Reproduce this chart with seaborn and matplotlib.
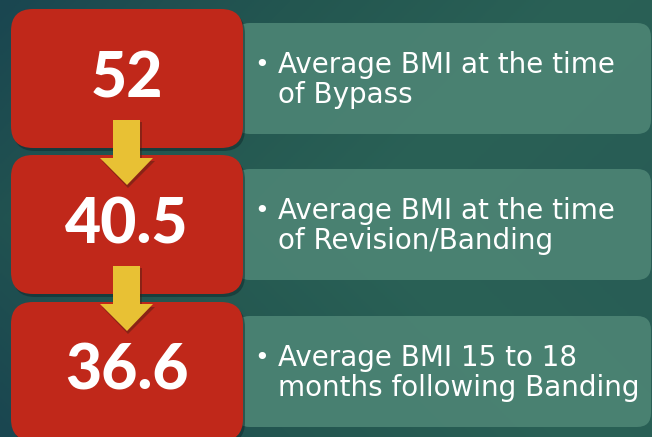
import numpy as np
import seaborn as sns
import matplotlib.pyplot as plt
from matplotlib.patches import FancyBboxPatch, Polygon
from matplotlib.colors import LinearSegmentedColormap

# values shown in the red boxes and the matching descriptions
bmi_values = ['52', '40.5', '36.6']
descriptions = [
    'Average BMI at the time\nof Bypass',
    'Average BMI at the time\nof Revision/Banding',
    'Average BMI 15 to 18\nmonths following Banding',
]

sns.set_theme(style='white')
plt.rcParams['font.family'] = ['DejaVu Sans']

fig = plt.figure(figsize=(6.52, 4.37), dpi=100)
ax = fig.add_axes([0, 0, 1, 1])
ax.set_xlim(0, 652)
ax.set_ylim(437, 0)
ax.axis('off')

# teal background gradient
bg = LinearSegmentedColormap.from_list('bg', ['#1a4650', '#235650', '#2a6156', '#285c55'])
gx = np.linspace(0, 1, 300)
gy = np.linspace(0, 1, 200)
GX, GY = np.meshgrid(gx, gy)
grad = 0.75 * GX + 0.25 * (1 - np.abs(GY - 0.5) * 2)
ax.imshow(grad, cmap=bg, extent=[0, 652, 437, 0], aspect='auto', zorder=0)

red = '#c0281a'
green = '#4b8373'
yellow = '#e8c134'

row_top = [9, 155, 302]
for i, (val, desc) in enumerate(zip(bmi_values, descriptions)):
    top = row_top[i]
    # green text panel
    ax.add_patch(FancyBboxPatch((236, top + 14), 415, 111,
                                boxstyle='round,pad=0,rounding_size=14',
                                fc=green, ec='none', alpha=0.95, zorder=1))
    # shadow + red box
    ax.add_patch(FancyBboxPatch((13, top + 3), 232, 139,
                                boxstyle='round,pad=0,rounding_size=22',
                                fc='#0c2226', ec='none', alpha=0.45, zorder=2))
    ax.add_patch(FancyBboxPatch((11, top), 232, 139,
                                boxstyle='round,pad=0,rounding_size=22',
                                fc=red, ec='none', zorder=3))
    ax.text(127, top + 70, val, ha='center', va='center', color='white',
            fontsize=45, fontweight='black', family=['Lato', 'DejaVu Sans'], zorder=6)
    ax.text(262, top + 56, '\u2022', ha='center', va='center', color='white',
            fontsize=18, zorder=6)
    for j, line in enumerate(desc.split('\n')):
        ax.text(278, top + 64 + 30 * j, line, ha='left', va='baseline', color='white',
                fontsize=20, zorder=6)

# yellow down arrows between the boxes
for top in row_top[:2]:
    y0 = top + 111
    shadow = Polygon([(115, y0 + 2), (142, y0 + 2), (142, y0 + 41), (155, y0 + 41),
                      (128, y0 + 68), (102, y0 + 41), (115, y0 + 41)],
                     closed=True, fc='#3a1a10', ec='none', alpha=0.4, zorder=4)
    ax.add_patch(shadow)
    arrow = Polygon([(113, y0), (140, y0), (140, y0 + 38), (153, y0 + 38),
                     (127, y0 + 65), (100, y0 + 38), (113, y0 + 38)],
                    closed=True, fc=yellow, ec='none', zorder=5)
    ax.add_patch(arrow)

fig.savefig('out.png', dpi=100)
